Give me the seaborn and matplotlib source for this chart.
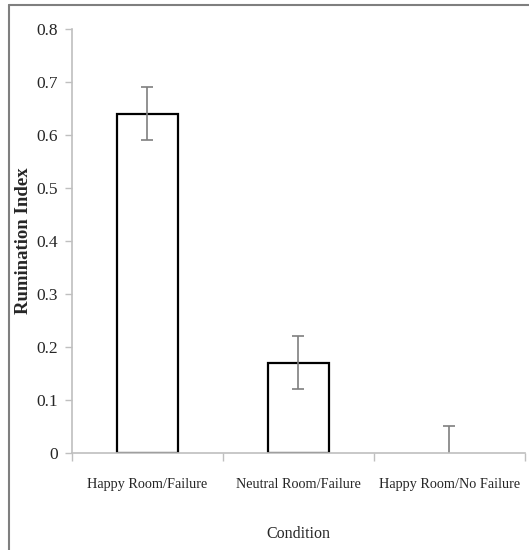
import numpy as np
import pandas as pd
import matplotlib
matplotlib.use("Agg")
import matplotlib.pyplot as plt
import seaborn as sns
from matplotlib.lines import Line2D

# === data ===
conditions = ["Happy Room/Failure", "Neutral Room/Failure", "Happy Room/No Failure"]
rumination = [0.64, 0.17, 0.0]
errors = [0.05, 0.05, 0.05]

df = pd.DataFrame({"Condition": conditions, "Rumination": rumination})

sns.set_style("white")
plt.rcParams['font.family'] = ['Liberation Serif', 'DejaVu Serif']

fig = plt.figure(figsize=(5.29, 5.5), dpi=100)
ax = fig.add_axes([0.136, 0.1764, 0.856, 0.7709])

sns.barplot(data=df, x="Condition", y="Rumination", color="white",
            edgecolor="black", linewidth=1.6, width=0.4, ax=ax, errorbar=None)
# a zero-height bar shows no outline
for p in ax.patches:
    if p.get_height() == 0:
        p.set_edgecolor("none")
ax.errorbar(np.arange(len(conditions)), rumination, yerr=errors, fmt="none",
            ecolor="#7f7f7f", elinewidth=1.2, capsize=4, capthick=1.2)

ax.set_xlim(-0.5, 2.5)
ax.set_ylim(0, 0.8)
ax.set_yticks(np.arange(0, 0.81, 0.1))
ax.set_yticklabels(["0", "0.1", "0.2", "0.3", "0.4", "0.5", "0.6", "0.7", "0.8"])

grey = "#bfbfbf"
for s in ["top", "right"]:
    ax.spines[s].set_visible(False)
for s in ["left", "bottom"]:
    ax.spines[s].set_color(grey)
    ax.spines[s].set_linewidth(1.2)

ax.tick_params(axis="y", which="major", direction="out", length=5, width=1,
               color=grey, labelsize=12.5, pad=5, left=True)
ax.tick_params(axis="x", which="major", length=0, labelsize=10.3, pad=18)
ax.set_xticks([-0.5, 0.5, 1.5, 2.5], minor=True)
ax.tick_params(axis="x", which="minor", direction="out", length=6, width=1,
               color=grey, bottom=True)

ax.set_ylabel("Rumination Index", fontsize=13.5, fontweight="bold")
ax.yaxis.set_label_coords(-0.088, 0.5)
ax.set_xlabel("Condition", fontsize=11.5, labelpad=25)

# outer frame (cropped at right and bottom)
fig.add_artist(Line2D([9 / 529, 1.0], [1 - 5 / 550, 1 - 5 / 550],
                      transform=fig.transFigure, color="#7f7f7f", lw=1.5))
fig.add_artist(Line2D([9 / 529, 9 / 529], [0.0, 1 - 5 / 550],
                      transform=fig.transFigure, color="#7f7f7f", lw=1.5))

fig.savefig("out.png", dpi=100)
